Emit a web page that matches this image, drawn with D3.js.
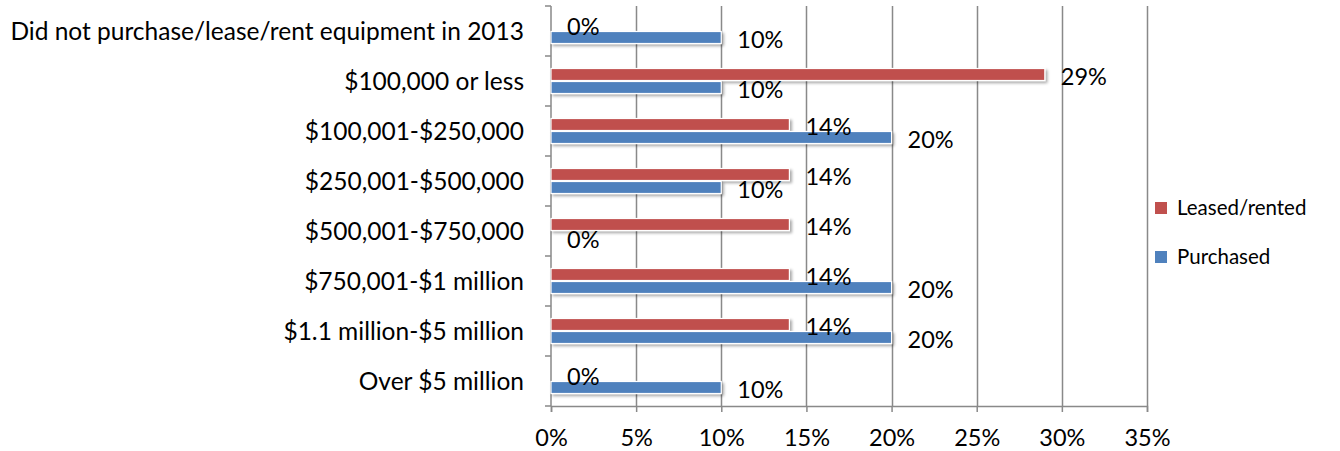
<!DOCTYPE html>
<html><head><meta charset="utf-8">
<script src="https://cdn.jsdelivr.net/npm/d3@7"></script>
<style>
html,body{margin:0;padding:0;background:#fff;}
svg{display:block;}
text{font-family:Lato,"Open Sans",sans-serif;fill:#000;}
</style></head>
<body>
<svg id="chart" width="1340" height="451"></svg>
<script>
const categories = [
  "Did not purchase/lease/rent equipment in 2013",
  "$100,000 or less",
  "$100,001-$250,000",
  "$250,001-$500,000",
  "$500,001-$750,000",
  "$750,001-$1 million",
  "$1.1 million-$5 million",
  "Over $5 million"
];
const seriesNames = ["Leased/rented", "Purchased"];
const leased = [0, 29, 14, 14, 14, 14, 14, 0];
const purchased = [10, 10, 20, 10, 0, 20, 20, 10];
const xTicks = [0, 5, 10, 15, 20, 25, 30, 35];
const colors = {"Leased/rented": "#C0504D", "Purchased": "#4F81BD"};

const svg = d3.select("#chart");
const x = d3.scaleLinear().domain([0, 35]).range([551, 1147]);
const y = d3.scaleBand().domain(categories).range([6, 406]).paddingInner(0.48).paddingOuter(0.24);
const ys = d3.scaleBand().domain(seriesNames).range([0, y.bandwidth()]);
const FS = 23.5, CFS = 24.5, LFS = 20.5;

const defs = svg.append("defs");
const f = defs.append("filter").attr("id","sh").attr("x","-5%").attr("y","-50%").attr("width","110%").attr("height","250%");
f.append("feGaussianBlur").attr("in","SourceAlpha").attr("stdDeviation",1.5).attr("result","b");
f.append("feOffset").attr("in","b").attr("dx",2).attr("dy",2).attr("result","o");
f.append("feComponentTransfer").attr("in","o").attr("result","o2").append("feFuncA").attr("type","linear").attr("slope",0.35);
const m = f.append("feMerge"); m.append("feMergeNode").attr("in","o2"); m.append("feMergeNode").attr("in","SourceGraphic");

// gridlines
svg.append("g").selectAll("line").data(xTicks.slice(1)).join("line")
  .attr("x1", d=>Math.round(x(d))+0.5).attr("x2", d=>Math.round(x(d))+0.5)
  .attr("y1", 6).attr("y2", 406).attr("stroke","#898989").attr("stroke-width",1.5);

// x axis
const xAxis = svg.append("g").attr("transform","translate(0,406)")
  .call(d3.axisBottom(x).tickValues(xTicks).tickFormat(d=>d+"%").tickSize(6).tickPadding(17));
xAxis.select(".domain").attr("stroke","#898989").attr("stroke-width",1.5);
xAxis.selectAll(".tick line").attr("stroke","#898989").attr("stroke-width",1.5);
xAxis.selectAll("text").attr("font-size",FS).attr("font-family","Lato");

// y axis
const yAxis = svg.append("g").attr("transform","translate(551,0)")
  .call(d3.axisLeft(y).tickSize(0).tickPadding(27));
yAxis.select(".domain").remove();
yAxis.selectAll("text").attr("font-size",CFS).attr("font-family","Lato").attr("dy","0.35em");
svg.append("line").attr("x1",551).attr("x2",551).attr("y1",6).attr("y2",406).attr("stroke","#898989").attr("stroke-width",1.5);
const boundaries = d3.range(categories.length+1).map(i=>6+i*y.step());
svg.append("g").selectAll("line").data(boundaries).join("line")
  .attr("x1",545).attr("x2",551).attr("y1",d=>d).attr("y2",d=>d).attr("stroke","#898989").attr("stroke-width",1.5);

// bars
const rows = categories.map((c,i)=>({cat:c, vals:[{s:"Leased/rented", v:leased[i]},{s:"Purchased", v:purchased[i]}]}));
const g = svg.append("g");
const grp = g.selectAll("g").data(rows).join("g").attr("transform", d=>`translate(0,${y(d.cat)})`);
grp.selectAll("rect").data(d=>d.vals.filter(v=>v.v>0)).join("rect")
  .attr("x", x(0)).attr("y", d=>ys(d.s)+0.5).attr("width", d=>x(d.v)-x(0)).attr("height", ys.bandwidth()-1)
  .attr("fill", d=>colors[d.s]).attr("stroke","#fff").attr("stroke-width",1.2).attr("filter","url(#sh)");
grp.selectAll("text").data(d=>d.vals).join("text")
  .attr("x", d=>x(d.v)+16).attr("y", d=>ys(d.s)+ys.bandwidth()/2+2)
  .attr("dy","0.35em").attr("font-size",FS).text(d=>d.v+"%");

// legend
const lg = svg.append("g").attr("transform","translate(1155,0)");
seriesNames.forEach((s,i)=>{
  const cy = 208 + i*49;
  lg.append("rect").attr("x",0).attr("y",cy-6).attr("width",12).attr("height",12).attr("fill",colors[s]);
  lg.append("text").attr("x",22).attr("y",cy).attr("dy","0.35em").attr("font-size",LFS).text(s);
});
</script>
</body></html>
